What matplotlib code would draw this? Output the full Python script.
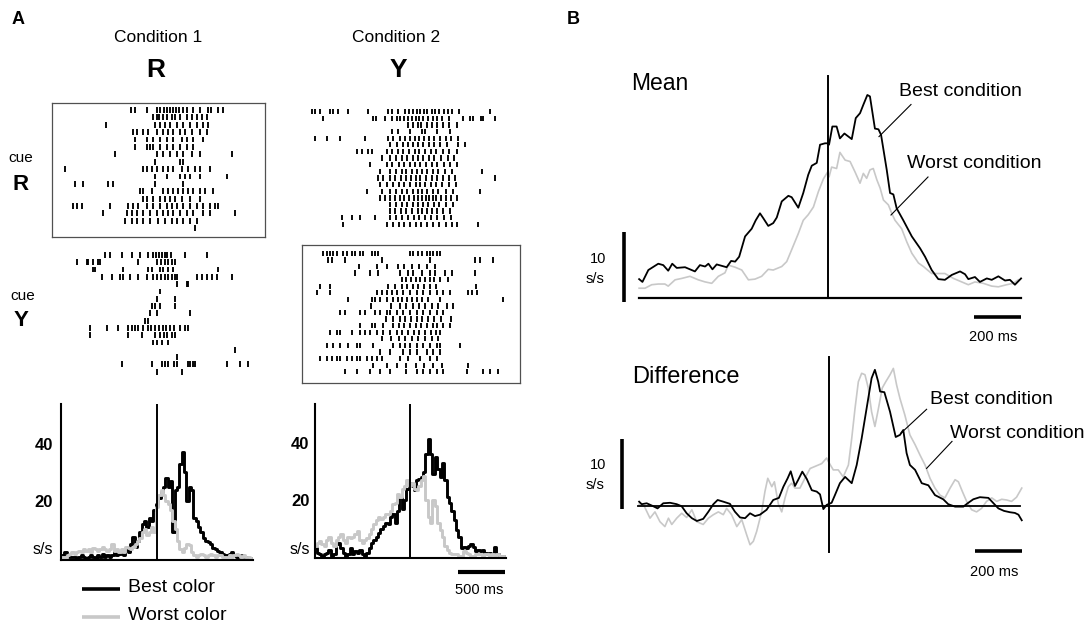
import numpy as np
import matplotlib
matplotlib.use('Agg')
import matplotlib.pyplot as plt
from matplotlib.lines import Line2D

plt.rcParams['font.family'] = ['Liberation Sans', 'DejaVu Sans']

# ---------------- DATA ----------------
# Raster spike times (ms, relative to event), one list per trial, top to bottom
raster_c1_cueR = [
    [-280, -234, -110, -4, 32, 74, 103, 138, 174, 202, 234, 273, 316, 387, 457, 546, 571, 652, 699],
    [-39, -4, 25, 67, 103, 156, 191, 245, 316, 369, 422, 475, 528],
    [-543, -21, 32, 85, 138, 209, 280, 351, 422, 493, 546],
    [-252, -209, -145, -92, -4, 67, 121, 174, 245, 298, 369, 457, 535],
    [-234, -110, -39, 32, 103, 174, 262, 316, 387, 493],
    [-234, -110, -74, -39, 32, 103, 174, 245, 316, 387],
    [-447, -4, 67, 138, 209, 280, 369, 457, 794],
    [-21, 245, 273],
    [-979, -145, -110, -57, -4, 67, 121, 174, 262, 333, 404, 457, 564],
    [-21, 103, 245, 298, 351, 457, 741],
    [-872, -784, -518, -465, -21, 280],
    [-181, -145, -57, 67, 121, 174, 227, 280, 333, 387, 457, 511, 599],
    [-145, -110, -39, 32, 85, 138, 191, 262, 351, 457],
    [-890, -855, -801, -500, -305, -252, -199, -110, -39, 32, 103, 156, 209, 280, 351, 422, 493, 564, 617, 652],
    [-571, -323, -270, -216, -145, -74, -4, 67, 121, 174, 245, 316, 387, 493, 564, 830],
    [-340, -270, -216, -145, -74, 14, 85, 156, 209, 280, 351, 422],
    [404],
]
raster_c2_cueR = [
    [-1046, -1011, -957, -851, -816, -762, -656, -443, -230, -195, -124, -53, -10, 30, 70, 110, 150, 180, 230, 270, 310, 360, 400, 450, 520, 851],
    [-922, -390, -360, -266, -195, -142, -106, -60, -20, 20, 60, 100, 140, 190, 240, 290, 340, 420, 567, 638, 674, 760, 780, 904],
    [-18, 30, 80, 120, 180, 230, 290, 350, 420, 496],
    [-195, -124, 0, 124, 160, 284, 426],
    [-1011, -887, -745, -479, -230, -177, -106, -53, 0, 53, 100, 150, 200, 260, 320, 380, 440, 514],
    [-213, -142, -71, -20, 30, 80, 140, 200, 250, 320, 390, 514, 585],
    [-567, -514, -443, -408, -248, -190, -130, -70, -10, 50, 100, 160, 220, 280, 350, 420, 496],
    [-301, -213, -150, -90, -30, 30, 90, 140, 200, 260, 330, 400, 470],
    [-426, -248, -190, -120, -60, 0, 50, 110, 170, 230, 290, 360, 430, 496],
    [-319, -213, -150, -90, -40, 20, 70, 130, 180, 240, 300, 370, 450, 762],
    [-337, -284, -213, -160, -100, -40, 10, 60, 110, 170, 230, 290, 350, 420, 480, 904],
    [-319, -248, -180, -120, -60, 0, 60, 110, 160, 220, 280, 340, 420, 490],
    [-461, -301, -213, -150, -90, -30, 30, 80, 130, 180, 240, 300, 380, 460, 745],
    [-319, -266, -213, -160, -110, -60, -10, 40, 90, 130, 170, 200, 240, 280, 330, 380, 440, 496],
    [-213, -150, -90, -30, 30, 90, 140, 190, 250, 310, 380, 460],
    [-213, -160, -100, -40, 20, 80, 130, 180, 230, 290, 350, 426],
    [-727, -621, -532, -372, -213, -150, -80, -20, 40, 100, 160, 220, 290, 360, 440],
    [-709, -248, -180, -120, -60, 0, 60, 120, 180, 240, 310, 380, 450, 496, 727],
]
raster_c1_cueY = [
    [-553, -500, -376, -270, -181, -92, -39, -10, 20, 50, 80, 110, 150, 298, 528],
    [-855, -748, -730, -677, -624, -606, -199, -4, 40, 80, 120, 160, 191],
    [-677, -660, -358, -92, -57, 32, 67, 121, 174, 652],
    [-589, -482, -394, -358, -287, -199, -110, -39, 0, 40, 80, 120, 160, 191, 209, 422, 475, 528, 582, 635, 794],
    [209, 316, 333],
    [32],
    [-4, 191],
    [-57, -21, 32, 191],
    [-74, -4, 351],
    [-128, -92],
    [-713, -535, -411, -305, -270, -230, -199, -145, -100, -60, -20, 20, 60, 100, 140, 180, 245, 298, 333],
    [-713, -305, -163, -21, 32, 70, 110, 156, 191],
    [-39, 0, 50, 121],
    [830],
    [209],
    [-376, -57, 50, 85, 121, 180, 209, 333, 351, 380, 404, 741, 883, 972],
    [-4, 262],
]
raster_c2_cueY = [
    [-922, -887, -851, -816, -780, -709, -674, -621, -585, -532, -496, -408, -372, -337, 0, 35, 89, 124, 177, 213, 248, 284, 319],
    [-869, -833, -691, -301, 213, 691, 745, 887],
    [-540, -350, -250, -130, -60, 20, 100, 180, 270],
    [-585, -426, -337, -106, -18, 35, 124, 213, 266, 372, 443, 691],
    [-89, -40, 10, 60, 110, 160, 210, 260, 320, 400],
    [-960, -850, -230, -160, -90, -30, 30, 90, 150, 210, 280, 700],
    [-993, -851, -355, -301, -248, -195, -142, -71, 0, 71, 142, 213, 284, 355, 426, 621, 656, 709],
    [-656, -408, -372, -319, -248, -177, -130, -80, -30, 20, 70, 130, 190, 319, 993],
    [-420, -200, -110, -40, 30, 100, 160, 230, 300, 390, 460],
    [-745, -691, -532, -479, -372, -319, -248, -213, -142, -71, 0, 71, 142, 213, 284, 355],
    [-260, -180, -110, -50, 10, 70, 130, 190, 250, 330, 440],
    [-532, -408, -372, -284, -177, -120, -60, 0, 60, 120, 180, 240, 284, 355, 426],
    [-851, -780, -745, -621, -532, -479, -426, -355, -284, -213, -142, -80, -20, 40, 100, 160, 220, 280, 319],
    [-300, -200, -120, -50, 20, 90, 160, 230, 300],
    [-887, -816, -745, -656, -567, -532, -390, -177, -106, -53, 0, 71, 142, 213, 284, 319, 532],
    [-319, -213, -71, 0, 71, 177, 248, 319],
    [-957, -887, -833, -780, -745, -674, -621, -567, -532, -461, -408, -355, -301, -106, -18, 106, 213, 284],
    [-390, -250, -140, -40, 60, 150, 240, 340, 620],
    [-691, -567, -426, -319, -213, -40, 71, 142, 213, 284, 355, 603, 780, 851, 940],
]

# PSTH bin centres (ms) and firing rates (s/s)
psth_t = np.arange(-1000, 1001, 25)
psth1_best = [1, 2, 1, 0.5, 0.5, 0.5, 0, 0.5, 1, 0.5, 0, 0.5, 1, 0.5, 0, 1, 0.5, 1.5, 0.5, 1,
              0.5, 1, 2, 1, 1.5, 2, 1, 3, 2, 5, 7.5, 4, 6, 9, 12, 13, 11, 14, 13, 17,
              19, 21, 23, 25, 28, 25, 27, 9, 24, 25, 33, 37, 30, 20, 25, 24, 14, 13, 11, 9,
              7, 6, 5.5, 5, 3.5, 3, 2.5, 2, 1.5, 1, 1, 1.5, 2, 1, 0.5, 0.5, 1, 0.5, 0.5, 0, 0]
psth1_worst = [0.5, 0.5, 1, 1.5, 2, 1.5, 2, 2.5, 2, 3, 2.5, 3, 2, 3.5, 3, 2.5, 3, 4, 3, 2.5,
               3, 5, 2.5, 3, 2, 3, 2, 4, 3.5, 3, 4, 5, 6, 7, 9, 10, 8, 9, 11, 9,
               18, 22, 24, 22, 20, 19, 17, 13, 10, 6, 3, 2, 3.5, 5, 4.5, 2, 1, 0.5, 1, 1.5,
               1, 0.5, 1, 1.5, 1, 0.5, 1, 1, 0.5, 0.5, 0.5, 1, 0.5, 1, 1.5, 1, 0.5, 1, 0.5, 0.5, 0]
psth2_best = [3, 1.5, 1, 0.5, 1, 1.5, 2.5, 0.5, 1, 4.5, 5, 3, 1.5, 0.5, 1, 3, 1, 2, 1.5, 2.5,
              1, 0.5, 1.5, 3, 5, 6, 7, 8.5, 10, 11, 12, 11.5, 14, 15, 12, 16, 21, 17, 20, 24,
              26, 25, 23.5, 27, 27.5, 28, 30, 36, 41.5, 36, 29, 35, 31, 28, 33, 27, 21, 19, 16, 13,
              9.5, 7, 3, 3.5, 3, 4, 4.5, 3.5, 2, 2.5, 2, 2.5, 1.5, 1, 1.5, 1, 3.5, 1, 0.5, 0.5, 0.5]
psth2_worst = [4, 5, 5.5, 4.5, 4, 6, 7, 5, 4, 6, 7, 8, 6, 5, 7, 6.5, 7, 8, 9, 6,
               5, 6, 6.5, 8, 10, 11.5, 13, 14, 13.5, 14, 15, 15, 16, 18.5, 19, 22, 21, 24, 25, 27,
               25, 26, 24, 23.5, 25, 27, 28.5, 20, 14, 12, 20, 18, 12, 9.5, 7, 4, 2.5, 1.5, 1, 1,
               1, 0.5, 0.5, 2, 1.5, 1, 0.5, 0.5, 1, 1, 1, 0.5, 1, 1, 0.5, 1, 0.5, 1, 0.5, 0.5, 0.5]

# Panel B population traces (time ms, rate s/s)
mean_best = [(-800, 2.7), (-786, 2.3), (-761, 4.0), (-719, 4.9), (-698, 4.7), (-677, 3.9), (-660, 4.9),
             (-641, 4.3), (-606, 4.4), (-564, 3.8), (-543, 4.7), (-521, 4.5), (-507, 4.9), (-490, 4.1),
             (-472, 4.8), (-430, 4.4), (-411, 5.3), (-394, 5.2), (-377, 5.9), (-352, 8.8), (-324, 9.9),
             (-307, 11.1), (-289, 12.1), (-275, 11.4), (-254, 10.3), (-233, 10.7), (-218, 11.5),
             (-197, 13.8), (-169, 14.6), (-155, 14.4), (-127, 12.9), (-106, 15.0), (-85, 17.6),
             (-70, 18.9), (-49, 19.3), (-35, 21.9), (-14, 22.1), (-3, 22.1), (3, 21.9), (17, 24.5),
             (35, 24.5), (49, 22.8), (68, 23.5), (99, 22.7), (116, 25.7), (134, 26.4), (148, 27.6),
             (165, 29.0), (176, 28.8), (197, 24.2), (212, 24.1), (223, 23.3), (247, 18.3), (261, 15.0),
             (275, 14.8), (289, 12.8), (317, 11.1), (353, 8.8), (388, 7.1), (409, 5.9), (437, 4.0),
             (465, 2.7), (493, 2.6), (522, 3.3), (557, 3.8), (578, 3.4), (592, 2.7), (620, 3.0),
             (641, 2.3), (670, 2.8), (691, 2.6), (719, 3.1), (747, 2.5), (768, 2.6), (789, 1.9), (815, 2.8)]
mean_worst = [(-800, 1.4), (-775, 1.4), (-747, 1.9), (-719, 2.0), (-691, 2.0), (-677, 1.7), (-648, 2.6),
              (-620, 2.8), (-585, 3.1), (-550, 2.6), (-521, 2.3), (-493, 2.1), (-465, 3.1), (-437, 3.6),
              (-423, 4.7), (-394, 4.4), (-366, 4.0), (-338, 2.6), (-310, 2.7), (-282, 3.1), (-254, 4.1),
              (-233, 4.0), (-197, 4.5), (-176, 5.2), (-155, 6.9), (-127, 9.2), (-106, 11.1), (-85, 11.9),
              (-63, 13.0), (-42, 15.2), (-21, 17.0), (-3, 18.0), (3, 17.3), (14, 18.7), (35, 18.5),
              (49, 20.8), (71, 19.7), (92, 19.5), (113, 18.0), (134, 16.4), (148, 17.8), (162, 17.1),
              (176, 18.3), (190, 18.5), (205, 16.9), (219, 15.7), (233, 14.0), (254, 13.3), (268, 12.1),
              (282, 11.1), (310, 9.9), (332, 8.0), (353, 6.4), (381, 5.0), (402, 4.5), (437, 3.5),
              (465, 3.5), (493, 3.5), (529, 2.8), (564, 2.3), (592, 1.9), (620, 2.3), (655, 2.1),
              (691, 1.7), (719, 1.6), (754, 1.9), (782, 2.1), (803, 2.6)]
diff_best = [(-805, 0.66), (-794, 0.3), (-773, 0.43), (-751, 0.1), (-727, -0.3), (-703, 0.43), (-674, 0.5),
             (-646, 0.3), (-625, 0.0), (-604, -1.0), (-582, -1.7), (-561, -2.1), (-534, -1.8), (-512, -0.77),
             (-491, 0.3), (-473, 0.9), (-449, 0.66), (-421, 0.35), (-400, -0.77), (-378, -1.6), (-357, -1.7),
             (-336, -1.0), (-315, -1.4), (-294, -1.2), (-266, -0.5), (-238, 0.9), (-214, 1.2), (-195, 2.8),
             (-177, 4.0), (-164, 5.0), (-146, 2.9), (-132, 3.8), (-115, 4.95), (-96, 3.9), (-75, 2.3),
             (-54, 2.1), (-40, 1.7), (-26, -0.4), (-12, 0.2), (9, 0.5), (23, 1.6), (44, 3.3), (66, 4.2),
             (94, 3.3), (115, 5.9), (136, 9.7), (157, 14.0), (178, 18.3), (192, 19.5), (206, 17.8),
             (214, 16.4), (232, 16.3), (256, 13.5), (280, 9.9), (298, 10.2), (312, 10.9), (326, 7.6),
             (340, 5.9), (362, 5.2), (390, 3.3), (418, 3.0), (446, 1.6), (481, 1.0), (502, 0.3),
             (531, -0.05), (566, -0.05), (587, 0.5), (608, 1.0), (636, 1.3), (672, 1.2), (693, 0.45),
             (714, -0.3), (738, -0.66), (763, -0.85), (784, -0.95), (799, -1.2), (813, -2.0)]
diff_worst = [(-805, 0.3), (-783, 0.0), (-759, -1.7), (-738, -0.8), (-717, -2.2), (-696, -2.9), (-681, -1.7),
              (-667, -2.6), (-646, -1.7), (-625, -1.0), (-604, -1.6), (-582, -0.5), (-561, -2.2), (-534, -2.6),
              (-512, -1.7), (-491, -1.2), (-470, -0.8), (-449, -1.2), (-435, -0.3), (-414, -1.2), (-392, -2.9),
              (-371, -1.9), (-350, -4.1), (-336, -5.5), (-322, -5.0), (-308, -3.6), (-287, -0.8), (-273, 2.1),
              (-261, 4.0), (-244, 2.8), (-233, 3.5), (-216, 0.3), (-202, -0.8), (-188, 1.2), (-174, 2.8),
              (-160, 3.3), (-146, 2.6), (-125, 2.6), (-104, 4.0), (-82, 5.4), (-61, 5.7), (-33, 6.1),
              (-12, 6.9), (-5, 6.4), (16, 5.2), (37, 5.2), (58, 4.2), (80, 5.9), (94, 9.7), (108, 14.0),
              (122, 17.8), (136, 19.0), (150, 18.8), (164, 16.9), (178, 13.5), (192, 11.4), (206, 13.8),
              (223, 16.9), (238, 17.8), (256, 18.8), (270, 19.7), (284, 17.3), (298, 15.4), (319, 13.0),
              (340, 10.2), (362, 8.8), (383, 7.3), (404, 5.9), (425, 4.0), (446, 2.6), (467, 1.6),
              (488, 1.2), (510, 2.6), (531, 3.8), (545, 3.5), (562, 2.1), (580, 0.7), (601, -0.5),
              (622, -0.8), (643, -0.3), (664, 0.7), (686, 1.2), (707, 0.7), (728, 1.0), (749, 0.9),
              (770, 0.7), (791, 1.3), (813, 2.6)]

psth_yticks = [20, 40]
GRAY = '#c8c8c8'

# ---------------- FIGURE ----------------
W, H = 1092, 624
fig = plt.figure(figsize=(W / 100, H / 100), dpi=100)


def add_ax(x0, y0, x1, y1):
    return fig.add_axes([x0 / W, 1 - y1 / H, (x1 - x0) / W, (y1 - y0) / H])


def ftext(x, y, s, **kw):
    kw.setdefault('ha', 'center')
    kw.setdefault('va', 'center')
    fig.text(x / W, 1 - y / H, s, **kw)


def fline(xs, ys, **kw):
    fig.add_artist(Line2D([x / W for x in xs], [1 - y / H for y in ys],
                          transform=fig.transFigure, **kw))


def raster(box, trials, xlim, ylim, frame):
    ax = add_ax(*box)
    ax.eventplot(trials, lineoffsets=np.arange(len(trials)), linelengths=0.8,
                 linewidths=1.35, colors='black')
    ax.set_xlim(*xlim)
    ax.set_ylim(*ylim)
    ax.set_xticks([])
    ax.set_yticks([])
    for s in ax.spines.values():
        s.set_visible(frame)
        s.set_linewidth(0.9)
        s.set_color('#505050')
    ax.patch.set_alpha(0)
    return ax


raster((52, 103, 265, 237), raster_c1_cueR, (-1117, 1149), (17.2, -0.95), True)
raster((301.7, 103, 520, 237), raster_c2_cueR, (-1152, 1170), (18.9, -1.31), False)
raster((52, 245, 265, 383), raster_c1_cueY, (-1117, 1149), (17.55, -1.37), False)
raster((301.7, 245, 520, 383.3), raster_c2_cueY, (-1152, 1170), (19.76, -1.26), True)


def psth(box, best, worst, xlim, ylim, pad):
    ax = add_ax(*box)
    ax.plot(psth_t, best, color='black', lw=2.1, drawstyle='steps-mid')
    ax.plot(psth_t, worst, color=GRAY, lw=2.1, drawstyle='steps-mid')
    ax.plot([0, 0], [ylim[0], ylim[1]], color='black', lw=1.4)
    ax.set_xlim(*xlim)
    ax.set_ylim(*ylim)
    for s in ('top', 'right'):
        ax.spines[s].set_visible(False)
    for s in ('left', 'bottom'):
        ax.spines[s].set_linewidth(1.5)
    ax.set_xticks([])
    ax.set_yticks(psth_yticks)
    ax.tick_params(axis='y', length=0, pad=pad, labelsize=12)
    for lab in ax.get_yticklabels():
        lab.set_fontweight('bold')
    ax.patch.set_alpha(0)
    return ax


psth((61, 404, 253, 560), psth1_best, psth1_worst, (-1021, 1021), (-0.7, 54.0), 6)
ax_p2 = psth((315, 404, 506, 558), psth2_best, psth2_worst, (-1005, 1016), (-0.35, 53.7), 4)
ax_p2.plot([505, 1005], [-5.3, -5.3], color='black', lw=3.0, clip_on=False, solid_capstyle='butt')
ftext(53, 549, 's/s', ha='right', fontsize=11.5)
ftext(310, 550, 's/s', ha='right', fontsize=11.5)
ftext(479, 590, '500 ms', fontsize=10.5)

# legend
fline([82, 120], [589, 589], color='black', lw=2.6, solid_capstyle='butt')
ftext(128, 588, 'Best color', ha='left', fontsize=14)
fline([82, 120], [617, 617], color=GRAY, lw=2.6, solid_capstyle='butt')
ftext(128, 615, 'Worst color', ha='left', fontsize=14)

# Panel A labels
ftext(18, 20, 'A', fontsize=13, fontweight='bold')
ftext(158, 37, 'Condition 1', fontsize=12.5)
ftext(156, 70, 'R', fontsize=19, fontweight='bold')
ftext(396, 37, 'Condition 2', fontsize=12.5)
ftext(398, 70, 'Y', fontsize=19, fontweight='bold')
ftext(21, 158, 'cue', fontsize=11)
ftext(21, 184, 'R', fontsize=16, fontweight='bold')
ftext(23, 296, 'cue', fontsize=11)
ftext(21, 321, 'Y', fontsize=16, fontweight='bold')

# ---------------- Panel B ----------------
ftext(573, 20, 'B', fontsize=13, fontweight='bold')

axm = add_ax(580, 70, 1040, 345)
axm.set_xlim(-1050, 895)
axm.set_ylim(-6.71, 32.57)
axm.axis('off')
mt, mv = zip(*mean_worst)
axm.plot(mt, mv, color=GRAY, lw=1.2)
mt, mv = zip(*mean_best)
axm.plot(mt, mv, color='black', lw=1.3)
axm.plot([-800, 815], [0, 0], color='black', lw=1.6)
axm.plot([0, 0], [0, 31.7], color='black', lw=1.4)
axm.plot([-866, -866], [-0.5, 9.5], color='black', lw=2.6, solid_capstyle='butt')
axm.plot([615, 815], [-2.7, -2.7], color='black', lw=2.6, solid_capstyle='butt')

axd = add_ax(580, 350, 1092, 600)
axd.set_xlim(-1055, 1110)
axd.set_ylim(-13.39, 22.33)
axd.axis('off')
dt, dv = zip(*diff_worst)
axd.plot(dt, dv, color=GRAY, lw=1.2)
dt, dv = zip(*diff_best)
axd.plot(dt, dv, color='black', lw=1.3)
axd.plot([-808, 806], [0, 0], color='black', lw=1.3)
axd.plot([0, 0], [-6.5, 21.3], color='black', lw=1.4)
axd.plot([-877, -877], [-0.4, 9.6], color='black', lw=2.6, solid_capstyle='butt')
axd.plot([616, 814], [-6.4, -6.4], color='black', lw=2.6, solid_capstyle='butt')

ftext(631, 83, 'Mean', ha='left', fontsize=16.5)
ftext(632, 377, 'Difference', ha='left', fontsize=17)
ftext(899, 92, 'Best condition', ha='left', fontsize=14)
ftext(907, 164, 'Worst condition', ha='left', fontsize=14)
ftext(930, 400, 'Best condition', ha='left', fontsize=14)
ftext(950, 434, 'Worst condition', ha='left', fontsize=14)
fline([911, 879], [104.5, 136.6], color='black', lw=0.8)
fline([928, 891], [177, 215], color='black', lw=0.8)
fline([926.6, 901.2], [409.3, 432.9], color='black', lw=0.8)
fline([952, 926.6], [441.4, 468.4], color='black', lw=0.8)

ftext(598, 259, '10', fontsize=10.5)
ftext(595, 279, 's/s', fontsize=10.5)
ftext(993, 337, '200 ms', fontsize=10.5)
ftext(598, 465, '10', fontsize=10.5)
ftext(595, 485, 's/s', fontsize=10.5)
ftext(994, 572, '200 ms', fontsize=10.5)

fig.savefig('out.png', dpi=100)
